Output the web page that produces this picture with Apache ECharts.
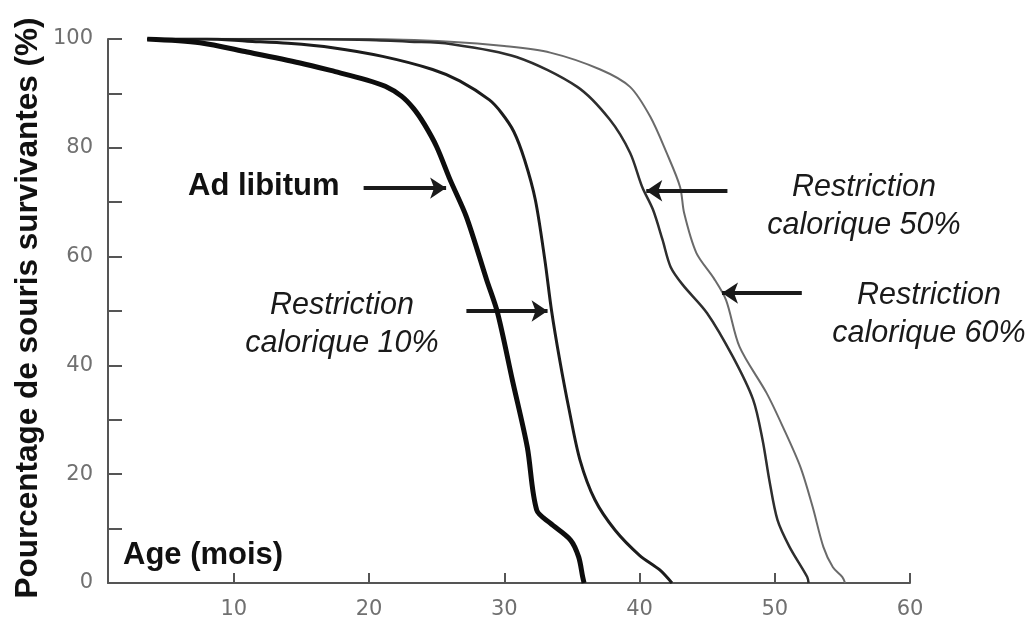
<!DOCTYPE html>
<html>
<head>
<meta charset="utf-8">
<script src="https://cdn.jsdelivr.net/npm/echarts@6/dist/echarts.min.js"></script>
<style>html,body{margin:0;padding:0;background:#fff}#c{width:1030px;height:622px}</style>
</head>
<body>
<div id="c"></div>
<script>
// Survival curves: x = age (months), y = surviving mice (%)
const adLibX = [3.6, 7.5, 11, 14.9, 17.5, 19.8, 21.2, 22.4, 23.3, 24.1, 25.0, 26.0, 27.2, 28.7, 29.5, 30.6, 31.7, 32.4, 33.4, 34.9, 35.5, 35.8, 35.9];
const adLibY = [100, 99.3, 97.6, 95.6, 94, 92.5, 91.3, 89.5, 87.2, 84.3, 80.2, 74.1, 67.3, 55.7, 49.7, 37.3, 25, 13.4, 11, 7.9, 4.8, 1.1, 0];

const cr10X = [3.6, 8, 11, 14, 17.3, 21, 24.7, 26.7, 28.9, 29.8, 30.7, 31.5, 32.3, 33.0, 33.5, 34.1, 34.8, 35.6, 36.7, 38.2, 40.0, 41.5, 42.4];
const cr10Y = [100, 100, 99.6, 99.2, 98.4, 96.8, 94.4, 92.3, 88.8, 86.4, 83, 77.8, 70.4, 59.4, 50, 41, 31.8, 22.6, 15.3, 9.7, 5.1, 2.4, 0];

const cr50X = [3.6, 10, 15, 20, 23, 26, 30.9, 35.4, 37.8, 39.3, 40.2, 41, 41.7, 42.3, 43.2, 45.0, 46.9, 48.4, 49.1, 49.6, 50.2, 51.1, 52.4, 52.5];
const cr50Y = [100, 100, 100, 99.8, 99.5, 99.1, 96.7, 91.2, 85.2, 79.1, 72.8, 68.6, 63.1, 58.1, 54.8, 49.6, 41.6, 33.7, 26.3, 18.9, 11.6, 6.6, 1.1, 0];

const cr60X = [3.6, 10, 15, 20, 26, 30, 33.4, 37.1, 39.3, 40.8, 42.0, 43, 43.3, 44.2, 45.5, 46.4, 47.4, 49.4, 50.6, 51.9, 52.8, 53.6, 54.3, 55.0, 55.2];
const cr60Y = [100, 100, 100, 100, 99.5, 98.7, 97.5, 94.4, 91.2, 85.7, 79.1, 72.8, 68, 60.7, 56, 52, 43.4, 34.9, 28.7, 21.3, 14, 6.6, 2.9, 1.1, 0];

// Annotation arrows: [fromX, fromY, toX, toY] in data units
const arrowAdLib = [19.6, 72.6, 25.7, 72.6];
const arrowCr10 = [27.2, 50, 33.2, 50];
const arrowCr50 = [46.5, 72.1, 40.5, 72.1];
const arrowCr60 = [52.0, 53.3, 46.1, 53.3];

const xTicks = [10, 20, 30, 40, 50, 60];
const yLabelValues = [0, 20, 40, 60, 80, 100];

const seriesNames = ['Ad libitum', 'Restriction calorique 10%', 'Restriction calorique 50%', 'Restriction calorique 60%'];
const yTitle = 'Pourcentage de souris survivantes (%)';
const xTitle = 'Age (mois)';

function zip(xs, ys) { return xs.map((x, i) => [x, ys[i]]); }
function arrow(a) {
  return [{ coord: [a[0], a[1]] }, { coord: [a[2], a[3]] }];
}
const arrowStyle = {
  silent: true,
  symbol: ['none', 'arrow'],
  symbolSize: 16,
  label: { show: false },
  lineStyle: { color: '#1a1a1a', width: 4, type: 'solid' },
  emphasis: { disabled: true }
};

const chart = echarts.init(document.getElementById('c'), null, { renderer: 'canvas' });
chart.setOption({
  animation: false,
  backgroundColor: '#ffffff',
  grid: { left: 108, right: 120, top: 39, bottom: 39, containLabel: false },
  xAxis: {
    type: 'value', min: 0.7, max: 60,
    axisLine: { show: true, lineStyle: { color: '#555', width: 2 } },
    axisTick: { show: true, inside: true, length: 10, customValues: xTicks, lineStyle: { color: '#555', width: 2 } },
    axisLabel: { show: true, customValues: xTicks, margin: 16, color: '#707070', fontFamily: 'DejaVu Sans', fontSize: 21 },
    splitLine: { show: false }
  },
  yAxis: {
    type: 'value', min: 0, max: 100, interval: 10,
    axisLine: { show: true, lineStyle: { color: '#555', width: 2 } },
    axisTick: { show: true, inside: true, length: 14, lineStyle: { color: '#555', width: 2 } },
    axisLabel: {
      show: true, margin: 15, color: '#707070', fontFamily: 'DejaVu Sans', fontSize: 21,
      formatter: v => (yLabelValues.indexOf(v) >= 0 ? String(v) : '')
    },
    splitLine: { show: false }
  },
  series: [
    { name: seriesNames[0], type: 'line', data: zip(adLibX, adLibY), showSymbol: false, smooth: 0.3,
      lineStyle: { color: '#0d0d0d', width: 5 }, z: 5,
      markLine: Object.assign({ data: [arrow(arrowAdLib)] }, arrowStyle) },
    { name: seriesNames[1], type: 'line', data: zip(cr10X, cr10Y), showSymbol: false, smooth: 0.3,
      lineStyle: { color: '#1c1c1c', width: 3 }, z: 4,
      markLine: Object.assign({ data: [arrow(arrowCr10)] }, arrowStyle) },
    { name: seriesNames[2], type: 'line', data: zip(cr50X, cr50Y), showSymbol: false, smooth: 0.3,
      lineStyle: { color: '#2e2e2e', width: 2.5 }, z: 3,
      markLine: Object.assign({ data: [arrow(arrowCr50)] }, arrowStyle) },
    { name: seriesNames[3], type: 'line', data: zip(cr60X, cr60Y), showSymbol: false, smooth: 0.3,
      lineStyle: { color: '#6a6a6a', width: 2 }, z: 2,
      markLine: Object.assign({ data: [arrow(arrowCr60)] }, arrowStyle) }
  ],
  graphic: [
    { type: 'text', x: 28, y: 308, rotation: Math.PI / 2,
      style: { text: yTitle, font: 'bold 31.5px "Liberation Sans", Arial, sans-serif', fill: '#111', textAlign: 'center', textVerticalAlign: 'middle', align: 'center', verticalAlign: 'middle' } },
    { type: 'text', x: 123, y: 555,
      style: { text: xTitle, font: 'bold 31px "Liberation Sans", Arial, sans-serif', fill: '#111', textAlign: 'left', textVerticalAlign: 'middle', align: 'left', verticalAlign: 'middle' } },
    { type: 'text', x: 188, y: 186,
      style: { text: seriesNames[0], font: 'bold 31px "Liberation Sans", Arial, sans-serif', fill: '#111', textAlign: 'left', textVerticalAlign: 'middle', align: 'left', verticalAlign: 'middle' } },
    { type: 'text', x: 342, y: 325,
      style: { text: 'Restriction\ncalorique 10%', font: 'italic 30.5px "Liberation Sans", Arial, sans-serif', lineHeight: 38, fill: '#1a1a1a', textAlign: 'center', textVerticalAlign: 'middle', align: 'center', verticalAlign: 'middle' } },
    { type: 'text', x: 864, y: 207,
      style: { text: 'Restriction\ncalorique 50%', font: 'italic 30.5px "Liberation Sans", Arial, sans-serif', lineHeight: 38, fill: '#1a1a1a', textAlign: 'center', textVerticalAlign: 'middle', align: 'center', verticalAlign: 'middle' } },
    { type: 'text', x: 929, y: 315,
      style: { text: 'Restriction\ncalorique 60%', font: 'italic 30.5px "Liberation Sans", Arial, sans-serif', lineHeight: 38, fill: '#1a1a1a', textAlign: 'center', textVerticalAlign: 'middle', align: 'center', verticalAlign: 'middle' } }
  ]
});
</script>
</body>
</html>
